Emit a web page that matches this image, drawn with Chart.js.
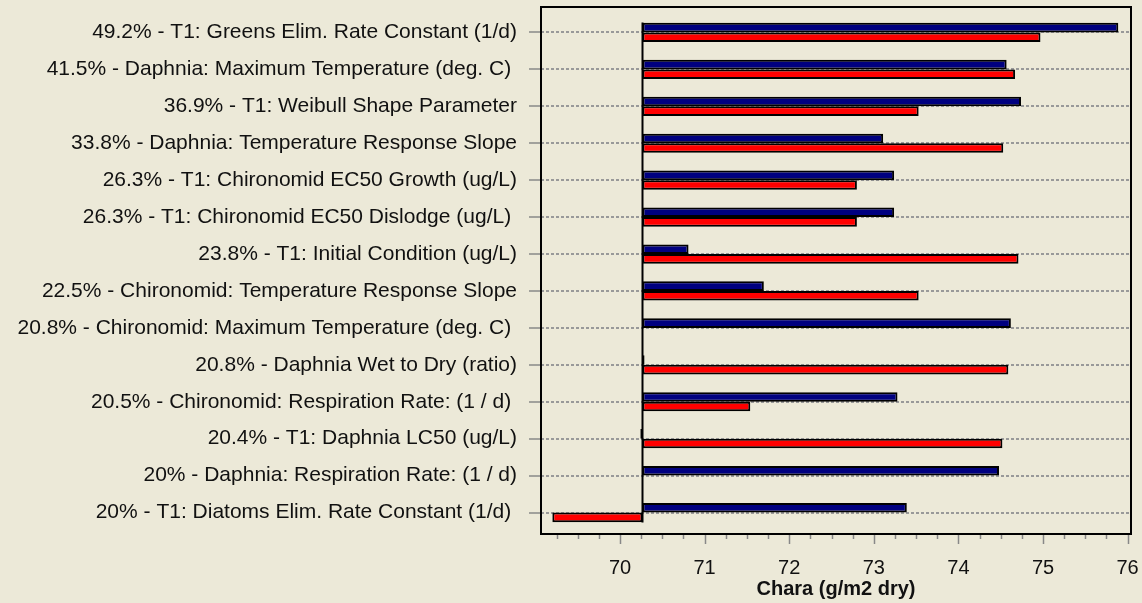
<!DOCTYPE html>
<html>
<head>
<meta charset="utf-8">
<script src="https://cdn.jsdelivr.net/npm/chart.js@4/dist/chart.umd.min.js"></script>
<style>
  body { margin: 0; background: #ECE9D8; }
  #wrap { width: 1142px; height: 603px; }
</style>
</head>
<body>
<div id="wrap"><canvas id="chart"></canvas></div>
<script>
// parameters, sorted by sensitivity
var parameters = [
	"49.2% - T1: Greens Elim. Rate Constant (1/d)",
	"41.5% - Daphnia: Maximum Temperature (deg. C) ",
	"36.9% - T1: Weibull Shape Parameter",
	"33.8% - Daphnia: Temperature Response Slope",
	"26.3% - T1: Chironomid EC50 Growth (ug/L)",
	"26.3% - T1: Chironomid EC50 Dislodge (ug/L) ",
	"23.8% - T1: Initial Condition (ug/L)",
	"22.5% - Chironomid: Temperature Response Slope",
	"20.8% - Chironomid: Maximum Temperature (deg. C) ",
	"20.8% - Daphnia Wet to Dry (ratio)",
	"20.5% - Chironomid: Respiration Rate: (1 / d) ",
	"20.4% - T1: Daphnia LC50 (ug/L)",
	"20% - Daphnia: Respiration Rate: (1 / d)",
	"20% - T1: Diatoms Elim. Rate Constant (1/d) "
];

var baseValue = 70.265;
var blueValues = [75.89, 74.57, 74.74, 73.11, 73.24, 73.24, 70.81, 71.70, 74.62, 70.29, 73.28, 70.24, 74.48, 73.39];
var redValues = [74.97, 74.67, 73.53, 74.53, 72.80, 72.80, 74.71, 73.53, 70.265, 74.59, 71.54, 74.52, 70.265, 69.20];

var xMin = 69.066;
var xMax = 76.04;
var xTitle = "Chara (g/m2 dry)";

function toRanges(values) {
	var out = [];
	for (var i = 0; i < values.length; i++)
		out.push([baseValue, values[i]]);
	return out;
}

var fontFamily = "'Liberation Sans', Arial, sans-serif";

// frame, base line and x tick marks
var decorations = {
	id: "decorations",
	afterDraw: function (chart) {
		var ctx = chart.ctx;
		var area = chart.chartArea;
		var xs = chart.scales.x;
		var ys = chart.scales.y;
		var top = area.top - 7;
		var bottom = area.bottom + 3;
		ctx.save();

		// base line through the bars
		var step = ys.getPixelForValue(1) - ys.getPixelForValue(0);
		var bx = Math.round(xs.getPixelForValue(baseValue)) + 0.5;
		ctx.strokeStyle = "#000";
		ctx.lineWidth = 2;
		ctx.beginPath();
		ctx.moveTo(bx, ys.getPixelForValue(0) - step * 0.27);
		ctx.lineTo(bx, ys.getPixelForValue(parameters.length - 1) + step * 0.27);
		ctx.stroke();

		// tick marks under the plot
		ctx.strokeStyle = "#888";
		ctx.lineWidth = 1.5;
		for (var v = Math.ceil(xMin * 4) / 4; v <= xMax + 1e-9; v += 0.25) {
			var px = Math.round(xs.getPixelForValue(v)) + 0.5;
			var major = Math.abs(v - Math.round(v)) < 1e-6;
			ctx.beginPath();
			ctx.moveTo(px, bottom);
			ctx.lineTo(px, bottom + (major ? 10 : 5));
			ctx.stroke();
		}

		// plot frame
		ctx.strokeStyle = "#000";
		ctx.lineWidth = 2;
		ctx.strokeRect(area.left, top, area.right - area.left, bottom - top);
		ctx.restore();
	}
};

var ctx = document.getElementById("chart");

var chart = new Chart(ctx, {
	type: "bar",
	data: {
		labels: parameters,
		datasets: [
			{
				data: toRanges(blueValues),
				backgroundColor: "#000080",
				borderColor: "#000",
				borderWidth: 2,
				borderSkipped: false
			},
			{
				data: toRanges(redValues),
				backgroundColor: "#FF0000",
				borderColor: "#000",
				borderWidth: 2,
				borderSkipped: false
			}
		]
	},
	options: {
		indexAxis: "y",
		responsive: true,
		maintainAspectRatio: false,
		animation: false,
		barPercentage: 1,
		categoryPercentage: 0.52,
		layout: { padding: { top: 14, right: 11, left: 0, bottom: 0 } },
		plugins: {
			legend: { display: false },
			tooltip: { enabled: false }
		},
		scales: {
			x: {
				type: "linear",
				min: xMin,
				max: xMax,
				grid: { display: false },
				border: { display: false },
				ticks: {
					stepSize: 1,
					includeBounds: false,
					padding: 17,
					color: "#111",
					font: { family: fontFamily, size: 20 }
				},
				title: {
					display: true,
					text: xTitle,
					color: "#111",
					font: { family: fontFamily, size: 20, weight: "bold" },
					padding: { top: 0, bottom: 2 }
				},
				afterFit: function (scale) {
					scale.height = 72;
					scale.paddingLeft = 0;
					scale.paddingRight = 0;
				}
			},
			y: {
				grid: {
					offset: false,
					color: "#999",
					lineWidth: 2,
					tickLength: 12,
					tickColor: "#888",
					tickWidth: 1.5,
					tickBorderDash: []
				},
				border: { display: false, dash: [3, 2] },
				ticks: {
					padding: 12,
					autoSkip: false,
					color: "#111",
					font: { family: fontFamily, size: 21 }
				},
				afterFit: function (scale) {
					scale.width = 541;
					scale.paddingTop = 0;
					scale.paddingBottom = 0;
				}
			}
		}
	},
	plugins: [decorations]
});
</script>
</body>
</html>
